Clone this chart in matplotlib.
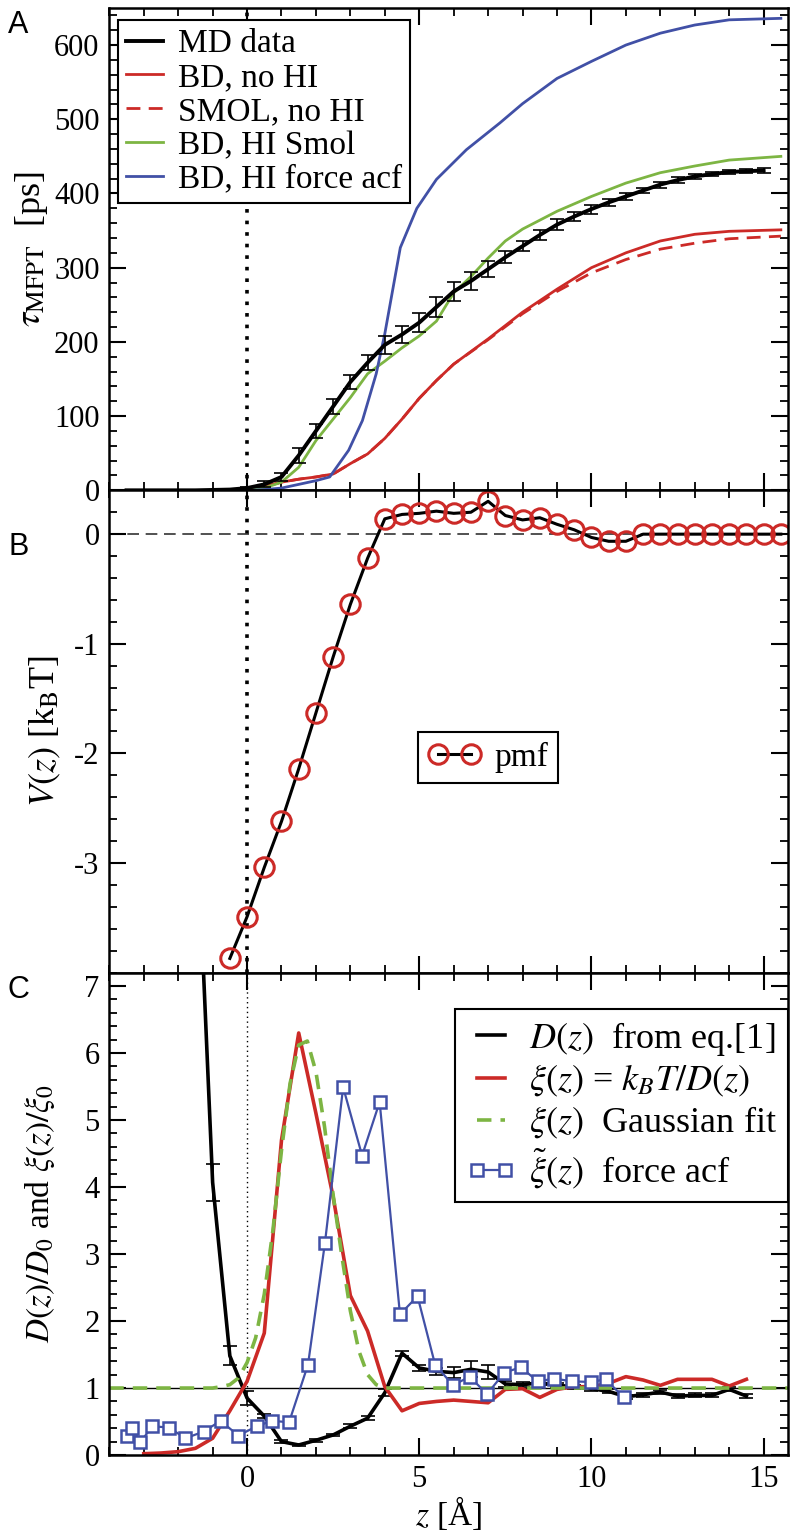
import matplotlib
matplotlib.use('Agg')
import matplotlib.pyplot as plt
from matplotlib.ticker import MultipleLocator

plt.rcParams['font.family'] = ['Liberation Serif', 'DejaVu Serif']
plt.rcParams['mathtext.fontset'] = 'stix'
plt.rcParams['axes.unicode_minus'] = False

RED = '#cc2a27'
GREEN = '#7db543'
BLUE = '#4150a6'

# ---- panel A: mean first passage time ----
md_z = [-3.5, -3, -2.5, -2, -1.5, -1, -0.5, 0, 0.5, 1, 1.5, 2, 2.5, 3, 3.5, 4, 4.5, 5, 5.5,
        6, 6.5, 7, 7.5, 8, 8.5, 9, 9.5, 10, 10.5, 11, 11.5, 12, 12.5, 13, 13.5, 14, 14.5, 15]
md_tau = [0, 0, 0, 0, 0, 0.5, 1, 3, 8, 18, 47, 80, 113, 146, 172, 196, 210, 226, 247,
          268, 282, 298, 314, 329, 344, 358, 369, 379, 388, 396, 404, 412, 418, 423, 426, 429, 430, 431]
md_err = [0, 0, 0, 0, 0, 0, 1, 2, 4, 6, 10, 10, 10, 10, 10, 12, 12, 13, 13,
          13, 12, 11, 8, 7, 7, 7, 6, 6, 5, 5, 4, 4, 4, 3, 3, 3, 3, 3]

bd_z = [0, 0.5, 1, 1.5, 2, 2.5, 3, 3.5, 4, 4.5, 5, 5.5, 6, 7, 8, 9, 10, 11, 12, 13, 14, 15.5]
bd_nohi = [0, 5, 11, 15, 18, 22, 36, 49, 70, 96, 124, 148, 170, 204, 240, 271, 300, 320, 336, 345, 349, 351]
smol_nohi = [0, 5, 11, 15, 18, 22, 36, 49, 70, 96, 124, 148, 170, 203, 238, 268, 293, 311, 325, 333, 339, 342.5]

hs_z = [0, 0.5, 1, 1.5, 2, 2.5, 3, 3.5, 4, 4.5, 5, 5.5, 6, 6.5, 7, 7.5, 8, 9, 10, 11, 12, 13, 14, 15.5]
hi_smol = [0, 3, 11, 31, 67, 96, 125, 157, 174, 192, 208, 228, 266, 288, 313, 336, 352, 376, 396, 414, 428, 437, 445, 450]

acf_z = [0, 0.5, 1, 1.5, 2, 2.4, 2.95, 3.35, 3.75, 4.0, 4.45, 4.93, 5.5, 6.37, 7.34, 8, 9, 10, 11, 12, 13, 14, 15.5]
hi_acf = [0, 1, 3, 8, 13, 18, 54, 94, 157, 211, 327, 380, 419, 459, 495, 521, 555, 578, 600, 616, 627, 634, 636]

# ---- panel B: potential of mean force ----
pmf_z = [-0.5, 0, 0.5, 1, 1.5, 2, 2.5, 3, 3.5, 4, 4.5, 5, 5.5, 6, 6.5, 7, 7.5, 8, 8.5,
         9, 9.5, 10, 10.5, 11, 11.5, 12, 12.5, 13, 13.5, 14, 14.5, 15, 15.5]
pmf_v = [-3.87, -3.49, -3.04, -2.62, -2.14, -1.63, -1.12, -0.64, -0.22, 0.14, 0.18, 0.19, 0.21,
         0.19, 0.2, 0.3, 0.17, 0.13, 0.15, 0.09, 0.04, -0.03, -0.065, -0.065, 0, 0, 0, 0, 0, 0, 0, 0, 0]

# ---- panel C: diffusion / friction profiles ----
d_z = [-1.5, -1, -0.5, 0, 0.5, 1, 1.5, 2, 2.5, 3, 3.5, 4, 4.5, 5, 5.5, 6, 6.5, 7, 7.5, 8,
       8.5, 9, 9.5, 10, 10.5, 11, 11.5, 12, 12.5, 13, 13.5, 14, 14.5]
d_val = [10.0, 4.07, 1.48, 0.85, 0.58, 0.2, 0.15, 0.22, 0.3, 0.43, 0.55, 0.93, 1.52, 1.3, 1.25,
         1.23, 1.28, 1.24, 1.06, 1.05, 1.08, 1.04, 1.02, 0.99, 0.95, 0.87, 0.9, 0.94, 0.88, 0.89,
         0.89, 0.98, 0.88]
d_err = [0, 0.28, 0.14, 0.1, 0.03, 0.02, 0.02, 0.02, 0.02, 0.03, 0.03, 0.05, 0.04, 0.04, 0.05,
         0.08, 0.12, 0.1, 0.04, 0.04, 0.04, 0.03, 0.03, 0.03, 0.03, 0.03, 0.03, 0.03, 0.03, 0.03,
         0.03, 0.03, 0.03]

xi_z = [-3, -2.5, -2, -1.5, -1, -0.5, 0, 0.5, 1, 1.5, 2, 2.5, 3, 3.5, 4, 4.5, 5, 5.5, 6,
        6.5, 7, 7.5, 8, 8.5, 9, 9.5, 10, 10.5, 11, 11.5, 12, 12.5, 13, 13.5, 14, 14.5]
xi_val = [0.02, 0.03, 0.05, 0.1, 0.25, 0.66, 1.1, 1.82, 4.7, 6.3, 5.1, 3.85, 2.38, 1.85, 1.02,
          0.66, 0.77, 0.8, 0.82, 0.8, 0.78, 0.98, 0.99, 0.86, 0.98, 1.02, 1.02, 1.07, 1.17, 1.12,
          1.04, 1.13, 1.13, 1.13, 1.03, 1.13]

gauss_z = [-4, -1, -0.75, -0.5, -0.25, 0, 0.25, 0.5, 0.75, 1.0, 1.25, 1.5, 1.75, 2.0, 2.25,
           2.5, 2.75, 3.0, 3.25, 3.5, 3.75, 4.0, 4.5, 15.7]
gauss_val = [1.0, 1.0, 1.02, 1.05, 1.15, 1.38, 1.75, 2.4, 3.35, 4.55, 5.55, 6.12, 6.18, 5.72, 4.9,
             3.88, 2.98, 2.15, 1.55, 1.2, 1.05, 1.0, 1.0, 1.0]

facf_z = [-3.5, -3.33, -3.1, -2.75, -2.27, -1.79, -1.26, -0.77, -0.25, 0.28, 0.72, 1.22, 1.77,
          2.26, 2.79, 3.34, 3.85, 4.44, 4.95, 5.46, 5.98, 6.46, 6.97, 7.47, 7.95, 8.44, 8.92,
          9.45, 9.98, 10.41, 10.94]
facf_val = [0.29, 0.41, 0.19, 0.43, 0.41, 0.25, 0.35, 0.51, 0.29, 0.43, 0.51, 0.49, 1.35,
            3.16, 5.49, 4.47, 5.27, 2.1, 2.37, 1.35, 1.04, 1.17, 0.91, 1.23, 1.31, 1.1, 1.14,
            1.1, 1.09, 1.13, 0.86]

fig = plt.figure(figsize=(8.02, 15.3), dpi=100)
gs = fig.add_gridspec(3, 1, left=0.1363, right=0.9822, top=0.9948, bottom=0.049, hspace=0)
ax1 = fig.add_subplot(gs[0])
ax2 = fig.add_subplot(gs[1], sharex=ax1)
ax3 = fig.add_subplot(gs[2], sharex=ax1)

FS = 22

for ax in (ax1, ax2, ax3):
    ax.tick_params(which='both', direction='in', top=True, right=True, labelsize=FS, pad=7)
    ax.tick_params(which='major', length=12, width=1.5)
    ax.tick_params(which='minor', length=6, width=1.3)
    for s in ax.spines.values():
        s.set_linewidth(1.8)
    ax.xaxis.set_major_locator(MultipleLocator(5))
    ax.xaxis.set_minor_locator(MultipleLocator(1))
ax1.tick_params(labelbottom=False)
ax2.tick_params(labelbottom=False)

# panel A
ax1.axvline(0, color='k', ls=(0, (1, 2.2)), lw=2.6, zorder=1)
l_bd, = ax1.plot(bd_z, bd_nohi, color=RED, lw=2.0, label='BD, no HI')
l_sm, = ax1.plot(bd_z, smol_nohi, color=RED, lw=2.0, ls=(0, (5, 3)), label='SMOL, no HI')
l_hs, = ax1.plot(hs_z, hi_smol, color=GREEN, lw=2.0, label='BD, HI Smol')
l_acf, = ax1.plot(acf_z, hi_acf, color=BLUE, lw=2.0, label='BD, HI force acf')
l_md, = ax1.plot(md_z, md_tau, color='k', lw=2.8, label='MD data', zorder=5)
ax1.errorbar(md_z, md_tau, yerr=md_err, fmt='none', ecolor='k', elinewidth=1.2,
             capsize=5, capthick=1.2, zorder=5)
ax1.set_xlim(-4, 15.7)
ax1.set_ylim(0, 650)
ax1.yaxis.set_major_locator(MultipleLocator(100))
ax1.yaxis.set_minor_locator(MultipleLocator(20))
ax1.set_yticks([0, 100, 200, 300, 400, 500, 600])
ax1.set_ylabel(r'$\tau_{\rm MFPT}$  [ps]', fontsize=26)
ax1.yaxis.set_label_coords(-0.087, 0.5)
leg1 = ax1.legend(handles=[l_md, l_bd, l_sm, l_hs, l_acf], loc='upper left',
                  bbox_to_anchor=(0.0128, 0.974), borderaxespad=0, fontsize=24,
                  handlelength=1.1, handletextpad=0.45, labelspacing=0.1,
                  borderpad=0.25, fancybox=False, framealpha=1, edgecolor='k')
leg1.get_frame().set_linewidth(1.5)

# panel B
ax2.axvline(0, color='k', ls=(0, (1, 2.2)), lw=2.6, zorder=1)
ax2.axhline(0, color='#333333', ls=(0, (7, 4)), lw=1.2, zorder=1)
ax2.plot(pmf_z, pmf_v, color='k', lw=2.2, marker='o', ms=14, mfc='none', mec=RED,
         mew=2.2, label='pmf')
ax2.set_ylim(-4, 0.4)
ax2.set_yticks([-3, -2, -1, 0])
ax2.yaxis.set_minor_locator(MultipleLocator(0.2))
ax2.set_ylabel(r'$V(z)$ [k$_{\rm B}$T]', fontsize=26)
ax2.yaxis.set_label_coords(-0.068, 0.5)
leg2 = ax2.legend(loc='center', bbox_to_anchor=(0.558, 0.446), fontsize=FS + 2,
                  handlelength=1.6, handletextpad=0.4, borderpad=0.3,
                  fancybox=False, framealpha=1, edgecolor='k', numpoints=2)
leg2.get_frame().set_linewidth(1.5)

# panel C
ax3.axvline(0, color='k', ls=(0, (1, 2.5)), lw=1.0, zorder=1)
ax3.axhline(1, color='k', lw=1.0, zorder=1)
ax3.plot(d_z, d_val, color='k', lw=2.6, label=r'$D(z)$  from eq.[1]')
ax3.errorbar(d_z, d_val, yerr=d_err, fmt='none', ecolor='k', elinewidth=1.2,
             capsize=5, capthick=1.2)
ax3.plot(xi_z, xi_val, color=RED, lw=2.6, label=r'$\xi(z)$ = $k_BT/D(z)$')
ax3.plot(gauss_z, gauss_val, color=GREEN, lw=2.6, ls=(0, (4, 2.5)),
         label=r'$\xi(z)$  Gaussian fit')
ax3.plot(facf_z, facf_val, color=BLUE, lw=1.6, marker='s', ms=9, mfc='white', mec=BLUE,
         mew=1.8, label=r'$\tilde{\xi}(z)$  force acf')
ax3.set_ylim(0, 7.2)
ax3.set_yticks(range(0, 8))
ax3.yaxis.set_minor_locator(MultipleLocator(0.2))
ax3.set_ylabel(r'$D(z)/D_0$ and $\xi(z)/\xi_0$', fontsize=24)
ax3.yaxis.set_label_coords(-0.077, 0.5)
ax3.set_xlabel(r'$z$ [Å]', fontsize=24, labelpad=0)
leg3 = ax3.legend(loc='upper right', bbox_to_anchor=(1.0, 0.925), borderaxespad=0,
                  fontsize=26, handlelength=1.4, handletextpad=0.35, labelspacing=0.15,
                  borderpad=0.3, fancybox=False, framealpha=1, edgecolor='k', numpoints=2)
leg3.get_frame().set_linewidth(1.5)

for lab, y in (('A', 1 - 25 / 1530), ('B', 1 - 547 / 1530), ('C', 1 - 990 / 1530)):
    fig.text(0.023, y, lab, family=['Liberation Sans', 'DejaVu Sans'], fontsize=22,
             ha='center', va='center')

fig.savefig('out.png', dpi=100)
